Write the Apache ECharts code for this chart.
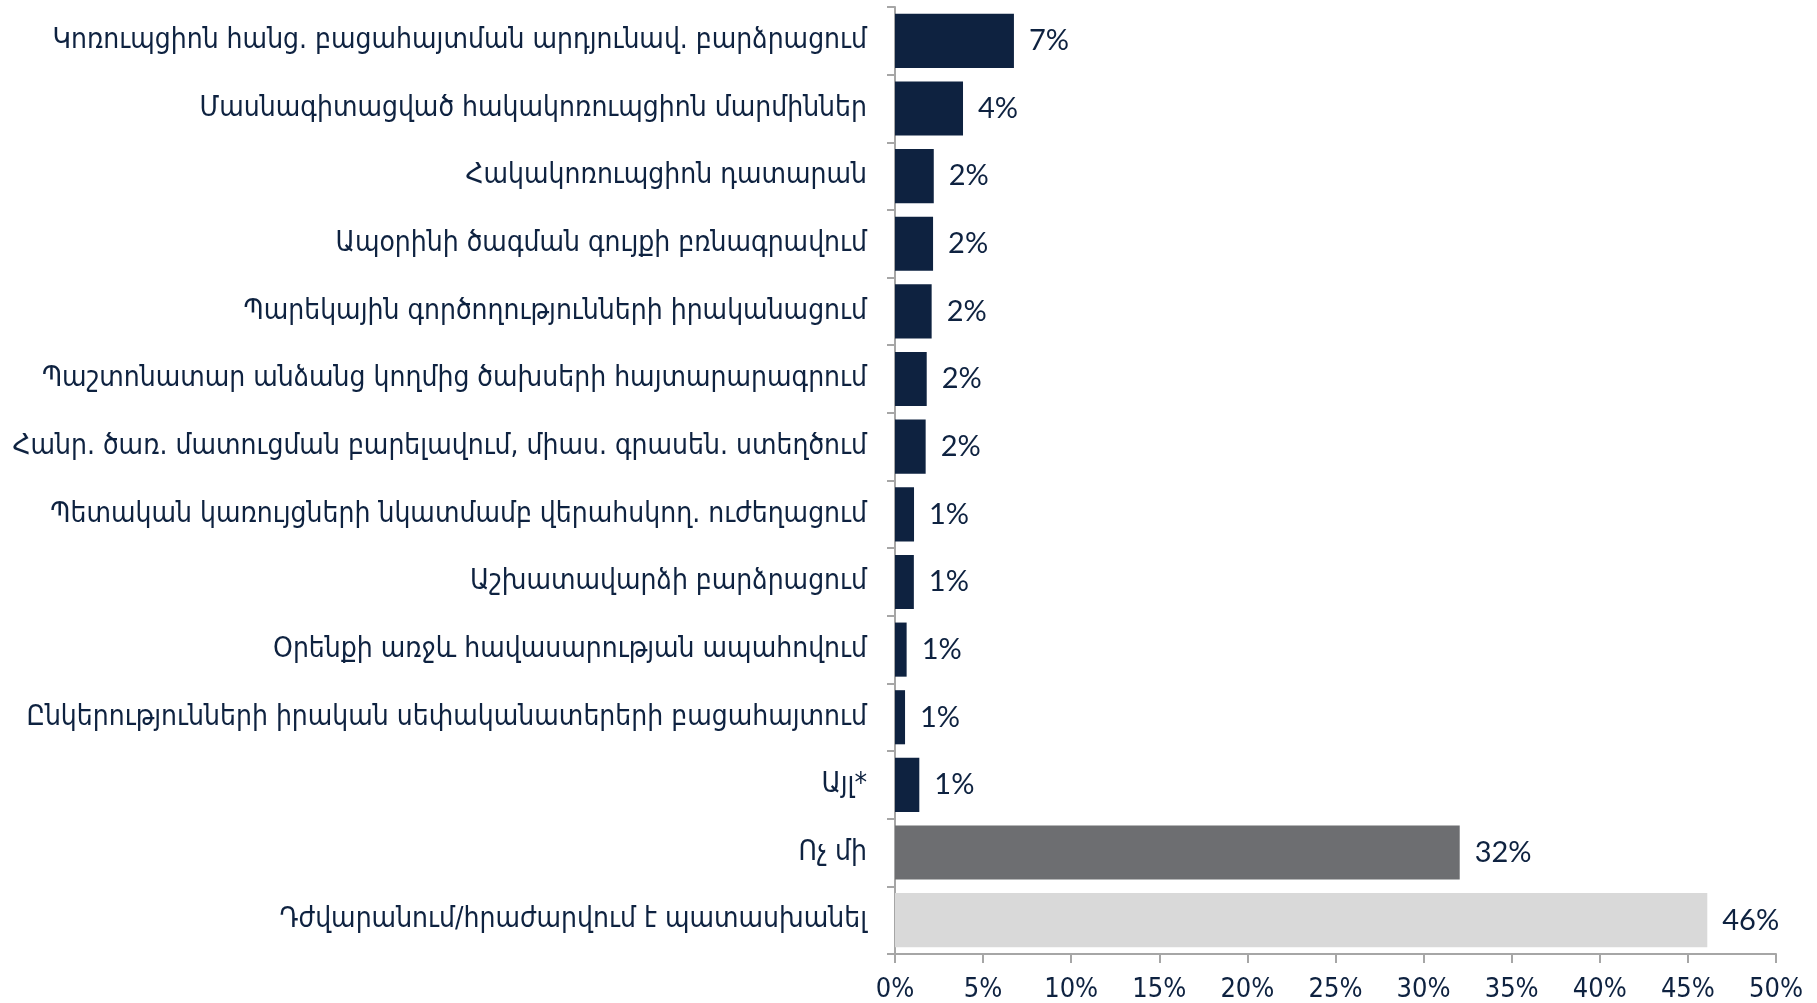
<!DOCTYPE html>
<html>
<head>
<meta charset="utf-8">
<script src="https://cdn.jsdelivr.net/npm/echarts@6/dist/echarts.min.js"></script>
<style>
  html, body { margin: 0; padding: 0; background: #fff; }
  #chart { width: 1817px; height: 1003px; }
</style>
</head>
<body>
<div id="chart"></div>
<script>
const categories = [
  'Կոռուպցիոն հանց. բացահայտման արդյունավ. բարձրացում',
  'Մասնագիտացված հակակոռուպցիոն մարմիններ',
  'Հակակոռուպցիոն դատարան',
  'Ապօրինի ծագման գույքի բռնագրավում',
  'Պարեկային գործողությունների իրականացում',
  'Պաշտոնատար անձանց կողմից ծախսերի հայտարարագրում',
  'Հանր. ծառ. մատուցման բարելավում, միաս. գրասեն. ստեղծում',
  'Պետական կառույցների նկատմամբ վերահսկող. ուժեղացում',
  'Աշխատավարձի բարձրացում',
  'Օրենքի առջև հավասարության ապահովում',
  'Ընկերությունների իրական սեփականատերերի բացահայտում',
  'Այլ*',
  'Ոչ մի',
  'Դժվարանում/հրաժարվում է պատասխանել'
]
const values = [6.75, 3.86, 2.2, 2.16, 2.08, 1.8, 1.74, 1.08, 1.07, 0.66, 0.57, 1.38, 32.05, 46.1]
const xTicks = [0, 5, 10, 15, 20, 25, 30, 35, 40, 45, 50]

const navy = '#0e2240'
// last two answers are drawn in grey
const barColors = { 'Ոչ մի': '#6d6e71', 'Դժվարանում/հրաժարվում է պատասխանել': '#d9d9d9' }

const myChart = echarts.init(document.getElementById('chart'))
const option = {
  animation: false,
  grid: { left: 895, right: 41, top: 7, bottom: 49, containLabel: false },
  xAxis: {
    type: 'value',
    min: xTicks[0],
    max: xTicks[xTicks.length - 1],
    interval: 5,
    axisLine: { show: true, lineStyle: { color: '#a6a6a6', width: 2 } },
    axisTick: { show: true, length: 9, lineStyle: { color: '#a6a6a6', width: 2 } },
    splitLine: { show: false },
    axisLabel: {
      formatter: '{value}%',
      margin: 22,
      color: navy,
      fontFamily: 'DejaVu Sans Condensed',
      fontSize: 27
    }
  },
  yAxis: {
    type: 'category',
    inverse: true,
    data: categories,
    axisLine: { show: true, lineStyle: { color: '#a6a6a6', width: 2 } },
    axisTick: { show: true, length: 8, lineStyle: { color: '#a6a6a6', width: 2 } },
    axisLabel: {
      margin: 28,
      color: navy,
      fontFamily: 'DejaVu Sans Condensed',
      fontSize: 28
    }
  },
  series: [
    {
      type: 'bar',
      barCategoryGap: '20%',
      data: values.map((v, i) => ({
        value: v,
        itemStyle: { color: barColors[categories[i]] || navy }
      })),
      label: {
        show: true,
        position: 'right',
        distance: 15,
        color: navy,
        fontFamily: 'Lato',
        fontSize: 29,
        formatter: p => Math.round(p.value) + '%'
      }
    }
  ]
}
myChart.setOption(option)
</script>
</body>
</html>
